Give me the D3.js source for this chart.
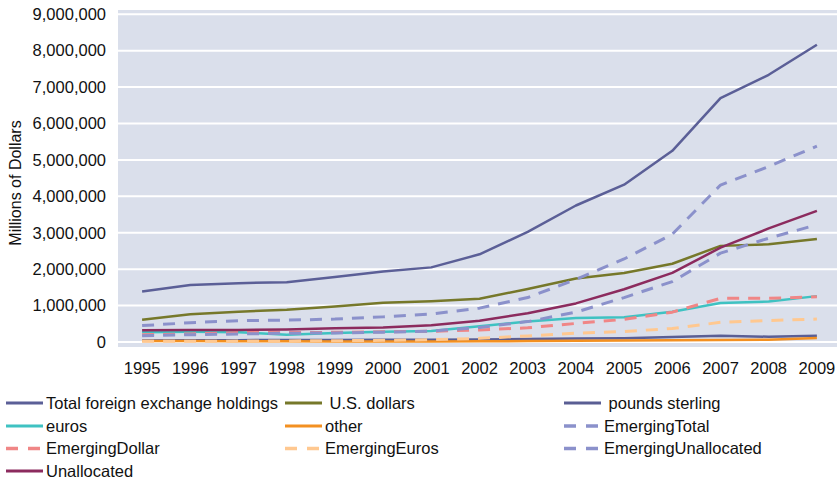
<!DOCTYPE html>
<html>
<head>
<meta charset="utf-8">
<script src="https://cdn.jsdelivr.net/npm/d3@7"></script>
<style>
  body { margin: 0; background: #fff; }
  text { font-family: "Liberation Sans", Arial, sans-serif; fill: #111; }
</style>
</head>
<body>
<svg id="chart" width="837" height="483"></svg>
<script>
const years = ['1995','1996','1997','1998','1999','2000','2001','2002','2003','2004','2005','2006','2007','2008','2009'];

const totalHoldings = [1389813, 1566285, 1616191, 1643314, 1782221, 1936307, 2049581, 2407939, 3025340, 3748330, 4320232, 5251235, 6699063, 7338271, 8165151];
const usDollars = [610000, 759000, 833000, 888000, 978000, 1079000, 1122000, 1190000, 1455000, 1745000, 1895000, 2150000, 2640000, 2685000, 2830000];
const poundsSterling = [40000, 45000, 50000, 55000, 55000, 60000, 62000, 68000, 80000, 97000, 102000, 134000, 170000, 145000, 170000];
const euros = [270000, 280000, 270000, 200000, 250000, 280000, 300000, 430000, 560000, 660000, 680000, 830000, 1070000, 1110000, 1260000];
const other = [25000, 25000, 22000, 18000, 15000, 15000, 15000, 20000, 25000, 35000, 40000, 50000, 55000, 60000, 110000];
const emergingTotal = [450000, 530000, 585000, 600000, 630000, 690000, 770000, 930000, 1220000, 1720000, 2280000, 2960000, 4310000, 4820000, 5380000];
const emergingDollar = [200000, 220000, 260000, 260000, 265000, 280000, 295000, 330000, 390000, 510000, 620000, 820000, 1200000, 1200000, 1240000];
const emergingEuros = [20000, 20000, 25000, 30000, 35000, 45000, 65000, 100000, 165000, 240000, 290000, 370000, 540000, 590000, 630000];
const emergingUnallocated = [170000, 200000, 220000, 240000, 250000, 270000, 300000, 400000, 560000, 820000, 1220000, 1660000, 2440000, 2850000, 3220000];
const unallocated = [320000, 330000, 330000, 345000, 380000, 400000, 460000, 585000, 790000, 1060000, 1450000, 1900000, 2590000, 3120000, 3600000];

const yTicks = [0, 1000000, 2000000, 3000000, 4000000, 5000000, 6000000, 7000000, 8000000, 9000000];

const series = [
  { name: 'Total foreign exchange holdings', values: totalHoldings, color: '#5b5f97', dash: null },
  { name: ' U.S. dollars', values: usDollars, color: '#76782a', dash: null },
  { name: ' pounds sterling', values: poundsSterling, color: '#5a5e94', dash: null },
  { name: 'euros', values: euros, color: '#3fc2c2', dash: null },
  { name: 'other', values: other, color: '#f39021', dash: null },
  { name: 'EmergingTotal', values: emergingTotal, color: '#8b91cb', dash: '12,9' },
  { name: 'EmergingDollar', values: emergingDollar, color: '#f08686', dash: '12,9' },
  { name: 'EmergingEuros', values: emergingEuros, color: '#ffc890', dash: '12,9' },
  { name: 'EmergingUnallocated', values: emergingUnallocated, color: '#8b91cb', dash: '12,9' },
  { name: 'Unallocated', values: unallocated, color: '#8c2b5e', dash: null }
];

const fontSize = '16.5px';
const svg = d3.select('#chart');
const plot = { left: 118, right: 841, top: 14.3, bottom: 342 };

const x = d3.scaleBand().domain(years).range([plot.left, plot.right]);
const y = d3.scaleLinear().domain([0, 9000000]).range([plot.bottom, plot.top]);

// plot background
svg.append('rect')
  .attr('x', plot.left).attr('y', 10)
  .attr('width', plot.right - plot.left).attr('height', 337)
  .attr('fill', '#dadfeb');

// gridlines
svg.append('g')
  .selectAll('line')
  .data(yTicks)
  .enter().append('line')
  .attr('x1', plot.left).attr('x2', plot.right)
  .attr('y1', d => y(d)).attr('y2', d => y(d))
  .attr('stroke', '#fff')
  .attr('stroke-width', 2);

// y axis labels
const yAxis = svg.append('g')
  .attr('transform', `translate(${plot.left - 12},0)`)
  .call(d3.axisLeft(y).tickValues(yTicks).tickFormat(d3.format(',')).tickSize(0).tickPadding(0));
yAxis.select('.domain').remove();
yAxis.selectAll('text').style('font-size', fontSize).style('font-family', '"Liberation Sans", Arial, sans-serif').attr('fill', '#111');

// x axis labels
const xAxis = svg.append('g')
  .attr('transform', `translate(0,${plot.bottom + 20})`)
  .call(d3.axisBottom(x).tickSize(0).tickPadding(0));
xAxis.select('.domain').remove();
xAxis.selectAll('text').style('font-size', fontSize).style('font-family', '"Liberation Sans", Arial, sans-serif').attr('fill', '#111');

// y title
svg.append('text')
  .attr('transform', 'translate(21,183) rotate(-90)')
  .attr('text-anchor', 'middle')
  .style('font-size', '16px')
  .text('Millions of Dollars');

const line = d3.line()
  .x((d, i) => x(years[i]) + x.bandwidth() / 2)
  .y(d => y(d));

series.forEach(s => {
  svg.append('path')
    .datum(s.values)
    .attr('d', line)
    .attr('fill', 'none')
    .attr('stroke', s.color)
    .attr('stroke-width', s.dash ? 3 : 2.5)
    .attr('stroke-dasharray', s.dash)
    .attr('stroke-linejoin', 'round');
});

// legend
const colX = [6, 285, 564];
const rowY = [403, 426, 448.5, 471];
const legend = svg.append('g');
series.forEach((s, i) => {
  const cx = colX[i % 3];
  const cy = rowY[Math.floor(i / 3)];
  legend.append('line')
    .attr('x1', cx).attr('x2', cx + 37)
    .attr('y1', cy).attr('y2', cy)
    .attr('stroke', s.color)
    .attr('stroke-width', s.dash ? 3.5 : 3)
    .attr('stroke-dasharray', s.dash ? '12,10' : null);
  legend.append('text')
    .attr('x', cx + 40)
    .attr('y', cy)
    .attr('dy', '0.35em')
    .style('font-size', fontSize)
    .style('white-space', 'pre')
    .attr('xml:space', 'preserve')
    .text(s.name);
});
</script>
</body>
</html>
